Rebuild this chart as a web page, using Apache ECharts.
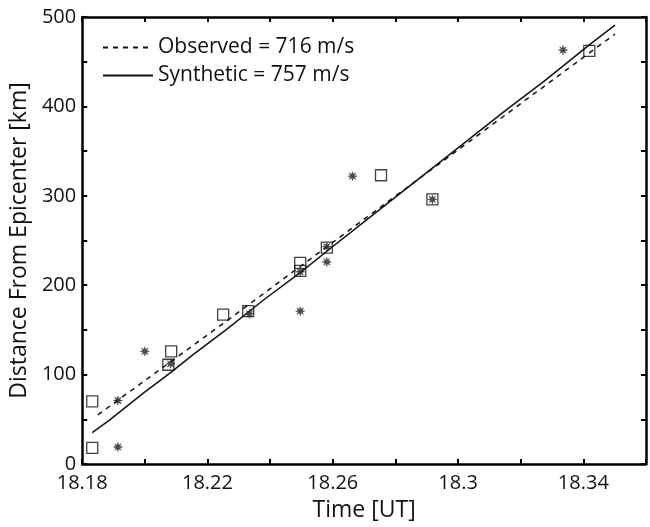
<!DOCTYPE html>
<html>
<head>
<meta charset="utf-8">
<script src="https://cdn.jsdelivr.net/npm/echarts@6/dist/echarts.min.js"></script>
<style>html,body{margin:0;padding:0;background:#fff}#c{width:650px;height:527px}</style>
</head>
<body>
<div id="c"></div>
<script>
// Tick labels
var xTickLabels = ['18.18', '18.22', '18.26', '18.3', '18.34'];
var yTickLabels = ['0', '100', '200', '300', '400', '500'];

// Observed (asterisk markers)
var observedTimes = [18.1914, 18.1914, 18.2000, 18.2082, 18.2334, 18.2496, 18.2496, 18.2581, 18.2581, 18.2663, 18.2918, 18.3335];
var observedDist  = [19, 71, 126, 112, 168, 171, 215, 226, 243, 322, 296, 463];

// Synthetic (square markers)
var syntheticTimes = [18.1832, 18.1832, 18.2075, 18.2084, 18.2250, 18.2330, 18.2496, 18.2496, 18.2581, 18.2754, 18.2918, 18.3419];
var syntheticDist  = [18, 70, 111, 126, 167, 171, 216, 225, 242, 323, 296, 462];

// Fit lines
var obsFitTimes = [18.185, 18.2265, 18.2581, 18.3072, 18.3501];
var obsFitDist  = [55, 161, 243, 370, 481];
var synFitTimes = [18.1832, 18.1887, 18.1994, 18.2078, 18.2153, 18.2259, 18.2381, 18.2496, 18.2581, 18.2722, 18.2860, 18.2998, 18.3157, 18.3274, 18.3423, 18.3501];
var synFitDist  = [35, 49, 79, 101, 122, 150, 184, 214, 238, 277, 315, 353, 397, 428, 470, 491];

var obsName = 'Observed = 716 m/s';
var synName = 'Synthetic = 757 m/s';

function zip(a, b) { return a.map(function (v, i) { return [v, b[i]]; }); }

var FONT = 'Open Sans';
var starPath = 'path://M10,0L3.7,1.53L7.07,7.07L1.53,3.7L0,10L-1.53,3.7L-7.07,7.07L-3.7,1.53L-10,0L-3.7,-1.53L-7.07,-7.07L-1.53,-3.7L0,-10L1.53,-3.7L7.07,-7.07L3.7,-1.53Z';

var chart = echarts.init(document.getElementById('c'), null, {renderer: 'canvas'});
var axisLine = {show: true, onZero: false, lineStyle: {color: '#000', width: 2.5}};
var tick = {show: true, inside: true, length: 5, lineStyle: {color: '#000', width: 2}};

chart.setOption({
  animation: false,
  backgroundColor: '#fff',
  textStyle: {fontFamily: FONT},
  grid: {left: 81, top: 17, right: 4, bottom: 63, containLabel: false},
  legend: {
    show: true,
    orient: 'vertical',
    left: 97, top: 32,
    itemWidth: 50, itemHeight: 12, itemGap: 7,
    data: [obsName, synName],
    itemStyle: {opacity: 0},
    textStyle: {fontFamily: FONT, fontSize: 21, color: '#111'}
  },
  xAxis: [{
    type: 'value', min: 18.18, max: 18.36, interval: 0.02,
    position: 'bottom',
    axisLine: axisLine, axisTick: tick, splitLine: {show: false},
    axisLabel: {
      fontFamily: FONT, fontSize: 20, color: '#111', margin: 9,
      formatter: function (v) {
        var s = String(+v.toFixed(2));
        return xTickLabels.indexOf(s) >= 0 ? s : '';
      }
    },
    name: 'Time [UT]', nameLocation: 'middle', nameGap: 35,
    nameTextStyle: {fontFamily: FONT, fontSize: 23, color: '#111'}
  }, {
    type: 'value', min: 18.18, max: 18.36, interval: 0.02,
    position: 'top',
    axisLine: axisLine, axisTick: tick, splitLine: {show: false},
    axisLabel: {show: false}
  }],
  yAxis: [{
    type: 'value', min: 0, max: 500, interval: 50,
    position: 'left',
    axisLine: axisLine, axisTick: tick, splitLine: {show: false},
    axisLabel: {
      fontFamily: FONT, fontSize: 20, color: '#111', margin: 6,
      formatter: function (v) {
        var s = String(Math.round(v));
        return yTickLabels.indexOf(s) >= 0 ? s : '';
      }
    },
    name: 'Distance From Epicenter [km]', nameLocation: 'middle', nameGap: 46,
    nameTextStyle: {fontFamily: FONT, fontSize: 23, color: '#111'}
  }, {
    type: 'value', min: 0, max: 500, interval: 50,
    position: 'right',
    axisLine: axisLine, axisTick: tick, splitLine: {show: false},
    axisLabel: {show: false}
  }],
  series: [{
    name: obsName, type: 'line', data: zip(obsFitTimes, obsFitDist),
    symbol: 'none', lineStyle: {color: '#111', width: 1.5, type: [5, 5]},
    itemStyle: {color: '#111'}, z: 2
  }, {
    name: synName, type: 'line', data: zip(synFitTimes, synFitDist),
    symbol: 'none', lineStyle: {color: '#111', width: 1.5, type: 'solid'},
    itemStyle: {color: '#111'}, z: 2
  }, {
    name: 'synthetic points', type: 'scatter', data: zip(syntheticTimes, syntheticDist),
    symbol: 'rect', symbolSize: 11,
    itemStyle: {color: 'rgba(0,0,0,0)', borderColor: '#111', borderWidth: 1.3}, z: 3
  }, {
    name: 'observed points', type: 'scatter', data: zip(observedTimes, observedDist),
    symbol: starPath, symbolSize: 9,
    itemStyle: {color: '#222', borderColor: '#222', borderWidth: 0.6}, z: 4
  }]
});
</script>
</body>
</html>
